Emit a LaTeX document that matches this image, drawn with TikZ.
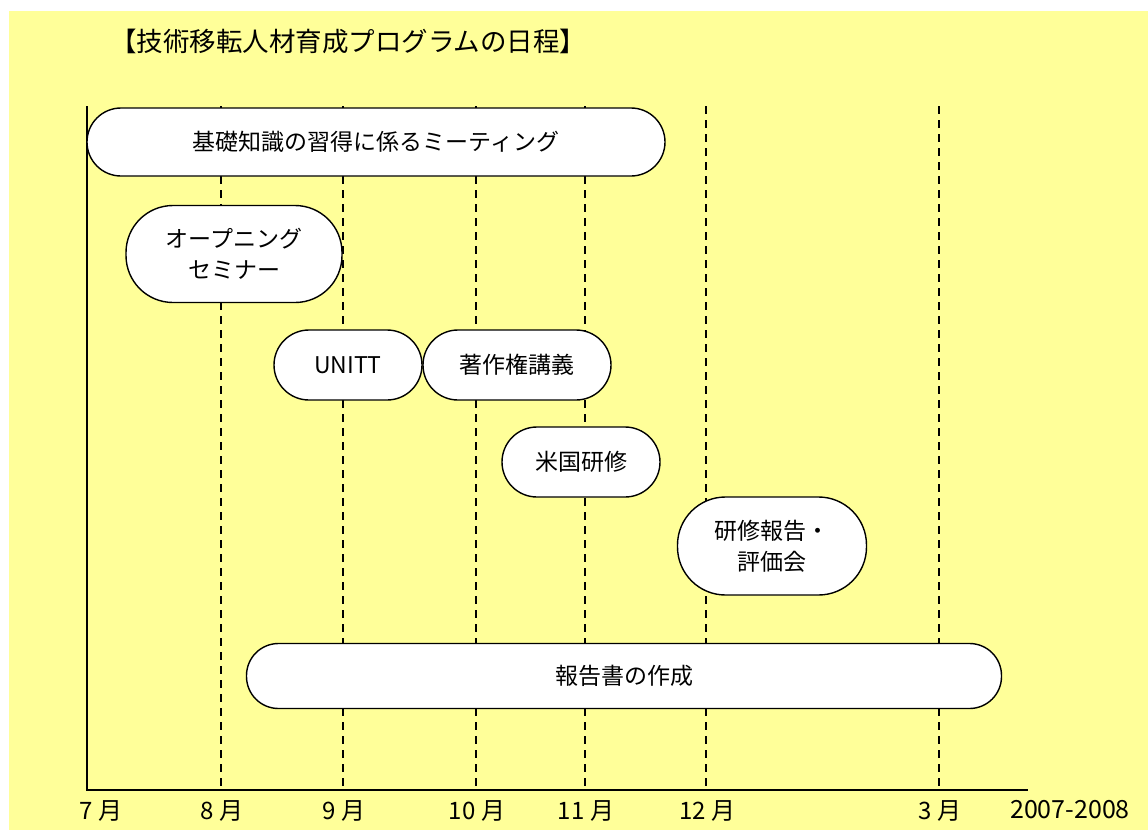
\documentclass[tikz,border=0pt]{standalone}
\usepackage{fontspec}
\setmainfont{Noto Sans CJK JP}
\definecolor{bgyellow}{HTML}{FFFF99}
\tikzset{
  evt/.style={draw=black, line width=1.4pt, fill=white, align=center, inner sep=0pt,
    font=\fontsize{23}{31}\selectfont},
  grid/.style={line width=1.2pt, dash pattern=on 8pt off 6pt},
  axisline/.style={line width=1.8pt},
  mlabel/.style={font=\fontsize{24}{26}\selectfont, anchor=center}
}
\begin{document}
\begin{tikzpicture}[x=1pt,y=-1pt]
\useasboundingbox (0,0) rectangle (1148,830);
\fill[bgyellow] (9,11) rectangle (1148,830);
\node[font=\fontsize{26.5}{30}\selectfont, anchor=west, inner sep=0pt] (title) at (110,41) {【技術移転人材育成プログラムの日程】};
% grid lines
\coordinate (g8t) at (221,106);  \coordinate (g8b) at (221,790);
\coordinate (g9t) at (343,106);  \coordinate (g9b) at (343,790);
\coordinate (g10t) at (476,106); \coordinate (g10b) at (476,790);
\coordinate (g11t) at (585,106); \coordinate (g11b) at (585,790);
\coordinate (g12t) at (706,106); \coordinate (g12b) at (706,790);
\coordinate (g3t) at (939,106);  \coordinate (g3b) at (939,790);
\foreach \m in {8,9,10,11,12,3} { \draw[grid] (g\m t) -- (g\m b); }
% axes
\coordinate (otop) at (87,106);
\coordinate (orig) at (87,790);
\coordinate (xend) at (1028,790);
\draw[axisline] (otop) -- (orig) -- (xend);
% events
\node[evt, minimum width=578pt, minimum height=68pt, rounded corners=34pt] (meet) at (376,142) {基礎知識の習得に係るミーティング};
\node[evt, minimum width=216pt, minimum height=97pt, rounded corners=47pt] (open) at (234,254) {オープニング\\セミナー};
\node[evt, minimum width=148pt, minimum height=70pt, rounded corners=35pt] (unitt) at (348,365) {UNITT};
\node[evt, minimum width=188pt, minimum height=70pt, rounded corners=35pt] (copy) at (517,365) {著作権講義};
\node[evt, minimum width=158pt, minimum height=70pt, rounded corners=35pt] (us) at (581,462) {米国研修};
\node[evt, minimum width=189pt, minimum height=98pt, rounded corners=48pt] (rep) at (772,546) {研修報告・\\評価会};
\node[evt, minimum width=755pt, minimum height=65pt, rounded corners=32pt] (book) at (624,676) {報告書の作成};
% month labels
\node[mlabel] (m7) at (101,811) {7 月};
\node[mlabel] (m8) at (222,811) {8 月};
\node[mlabel] (m9) at (344,811) {9 月};
\node[mlabel] (m10) at (477,811) {10 月};
\node[mlabel] (m11) at (586,811) {11 月};
\node[mlabel] (m12) at (707,811) {12 月};
\node[mlabel] (m3) at (940,811) {3 月};
\node[mlabel, font=\fontsize{25}{27}\selectfont] (yr) at (1070,810) {2007-2008};
\end{tikzpicture}
\end{document}
